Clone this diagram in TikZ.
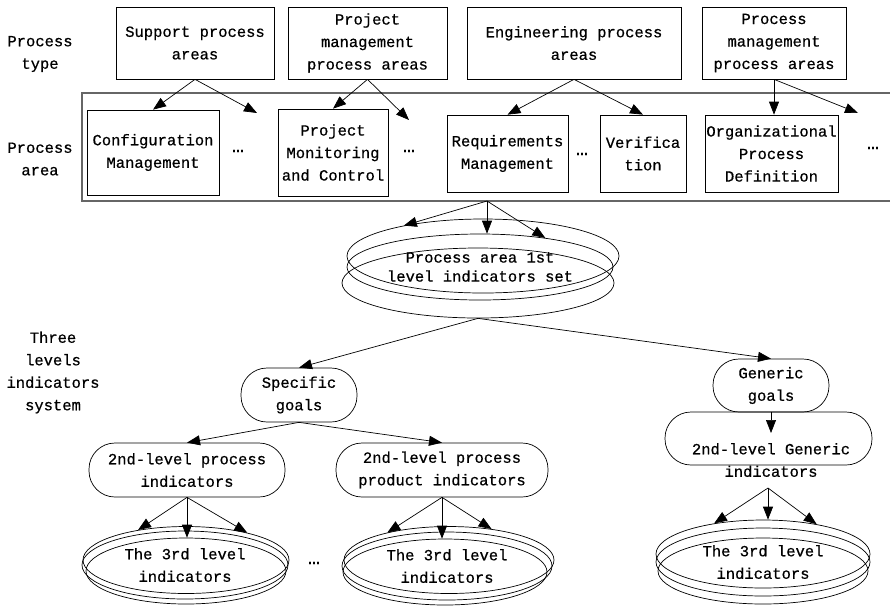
\documentclass[tikz,border=0pt]{standalone}
\usepackage{fontspec}
\setmainfont{Liberation Mono}[FakeBold=0.6]
\usetikzlibrary{arrows.meta,shapes.geometric}

\begin{document}
\begin{tikzpicture}[x=1pt, y=-1pt, line width=0.7pt,
  font=\fontsize{15.5}{22.5}\selectfont,
  box/.style={draw, rectangle, inner sep=0pt, align=center},
  pill/.style={draw, rectangle, rounded corners=26pt, inner sep=0pt, align=center},
  ring/.style={draw, ellipse, inner sep=0pt, align=center},
  more/.style={font=\fontsize{20}{20}\selectfont, inner sep=0pt},
  arr/.style={-{Triangle[length=13pt,width=10pt]}}]
  \useasboundingbox (0,0) rectangle (890,606);

  % Process type row
  \node[align=center] (typelbl) at (40,54) {Process\\type};
  \node[box, minimum width=158pt, minimum height=72pt] (sup) at (195,43) {Support process\\areas};
  \node[box, minimum width=159pt, minimum height=72pt] (pm) at (367.5,43) {Project\\management\\process areas};
  \node[box, minimum width=214pt, minimum height=72pt] (eng) at (574,43) {Engineering process\\areas};
  \node[box, minimum width=144pt, minimum height=72pt] (pmg) at (774,43) {Process\\management\\process areas};

  % Process area row, inside the grey frame
  \node[align=center] (arealbl) at (40,159) {Process\\area};
  \node[draw=gray!80!black, line width=1.2pt, minimum width=820pt, minimum height=108pt, inner sep=0pt] (frame) at (492,147) {};
  \node[box, minimum width=132pt, minimum height=85pt] (cm) at (153,152.5) {Configuration\\Management};
  \node[more] (d1) at (238,151) {…};
  \node[box, minimum width=110pt, minimum height=87pt] (pmc) at (333,152.5) {Project\\Monitoring\\and Control};
  \node[more] (d2) at (409,151) {…};
  \node[box, minimum width=121pt, minimum height=77pt] (rm) at (507.5,153.5) {Requirements\\Management};
  \node[more] (d3) at (582,154) {…};
  \node[box, minimum width=86pt, minimum height=77pt] (ver) at (643,153.5) {Verifica\\tion};
  \node[box, minimum width=133pt, minimum height=77pt] (opd) at (771.5,153.5) {Organizational\\Process\\Definition};
  \node[more] (d4) at (873,148) {…};

  \coordinate (d1tip) at (257,113);
  \coordinate (d2tip) at (409,120);
  \coordinate (d4tip) at (858,113);
  \draw[arr] (sup.south) -- (cm.north);
  \draw[arr] (sup.south) -- (d1tip);
  \draw[arr] (pm.south) -- (pmc.north);
  \draw[arr] (pm.south) -- (d2tip);
  \draw[arr] (eng.south) -- (rm.north);
  \draw[arr] (eng.south) -- (ver.north);
  \draw[arr] (pmg.south) -- (pmg.south |- opd.north);
  \draw[arr] (pmg.south) -- (d4tip);

  % 1st level indicators set (three stacked rings)
  \node[ring, minimum width=272pt, minimum height=74pt] (lv1top) at (483,256) {};
  \node[ring, minimum width=266pt, minimum height=66pt, font=\fontsize{15.5}{19}\selectfont] (lv1) at (480,267) {Process area 1st\\level indicators set};
  \node[ring, minimum width=272pt, minimum height=70pt] (lv1bot) at (478,283) {};
  \coordinate (fork1) at (487,201);
  \draw[arr] (fork1) -- (lv1top.159);
  \draw[arr] (fork1) -- (fork1 |- lv1.north);
  \draw[arr] (fork1) -- (lv1.24);

  % Three levels indicators system
  \node[align=center] (syslbl) at (53,372.5) {Three\\levels\\indicators\\system};
  \node[pill, minimum width=116pt, minimum height=54pt] (sg) at (299,395) {Specific\\goals};
  \node[pill, minimum width=116pt, minimum height=53pt] (gg) at (771,385.5) {Generic\\goals};
  \draw[arr] (lv1bot.south) -- (sg.north);
  \draw[arr] (lv1bot.south) -- (gg.north);

  % 2nd level
  \node[pill, minimum width=196pt, minimum height=54pt] (p2a) at (187,470) {2nd-level process\\indicators};
  \node[pill, minimum width=212pt, minimum height=54pt] (p2b) at (442,470) {2nd-level process\\product indicators};
  \draw[arr] (sg.south) -- (p2a.north);
  \draw[arr] (sg.south) -- (p2b.north);
  \node[pill, minimum width=207pt, minimum height=53pt] (g2) at (768.5,438.5) {};
  \node[align=center] (g2txt) at (771,460) {2nd-level Generic\\indicators};
  \coordinate (g2tip) at (771,433);
  \draw[arr] (gg.south) -- (g2tip);

  % 3rd level, left
  \node[ring, minimum width=206pt, minimum height=67pt] (lv3atop) at (186,560) {};
  \node[ring, minimum width=206pt, minimum height=68pt] (lv3a) at (185,565) {The 3rd level\\indicators};
  \node[ring, minimum width=200pt, minimum height=66pt] (lv3abot) at (186,571) {};
  \draw[arr] (p2a.south) -- (lv3atop.148);
  \draw[arr] (p2a.south) -- (p2a.south |- lv3abot.north);
  \draw[arr] (p2a.south) -- (lv3atop.24);
  \node[more] (d5) at (314,563) {…};

  % 3rd level, middle
  \node[ring, minimum width=210pt, minimum height=67pt] (lv3btop) at (449,560) {};
  \node[ring, minimum width=210pt, minimum height=68pt] (lv3b) at (447,566) {The 3rd level\\indicators};
  \node[ring, minimum width=204pt, minimum height=66pt] (lv3bbot) at (445,572) {};
  \draw[arr] (p2b.south) -- (lv3btop.156);
  \draw[arr] (p2b.south) -- (p2b.south |- lv3bbot.north);
  \draw[arr] (p2b.south) -- (lv3btop.36);

  % 3rd level, right
  \node[ring, minimum width=214pt, minimum height=68pt] (lv3ctop) at (763,554) {};
  \node[ring, minimum width=214pt, minimum height=68pt] (lv3c) at (763,562) {The 3rd level\\indicators};
  \node[ring, minimum width=210pt, minimum height=66pt] (lv3cbot) at (763,571) {};
  \coordinate (g3fork) at (768,488);
  \draw[arr] (g3fork) -- (lv3ctop.148);
  \draw[arr] (g3fork) -- (g3fork |- lv3ctop.north);
  \draw[arr] (g3fork) -- (lv3ctop.29);
\end{tikzpicture}
\end{document}
